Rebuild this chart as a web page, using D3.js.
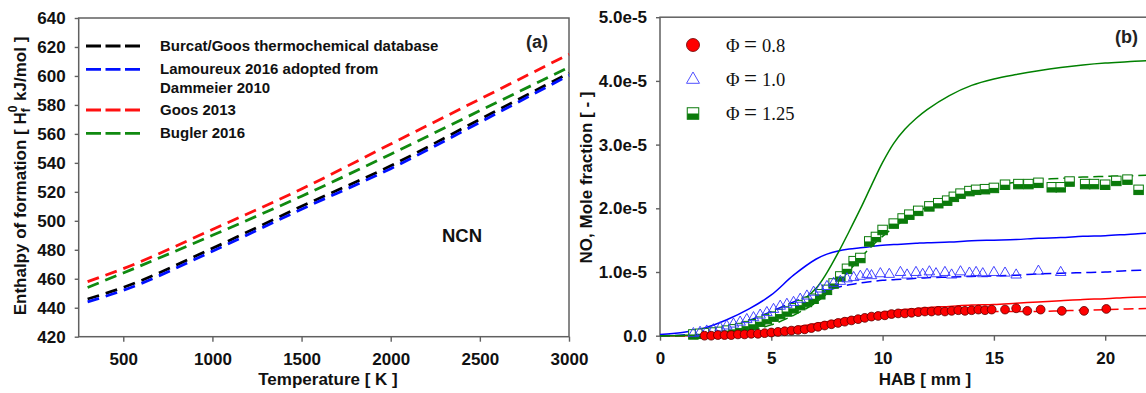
<!DOCTYPE html>
<html><head><meta charset="utf-8">
<script src="https://cdn.jsdelivr.net/npm/d3@7"></script>
<style>body{margin:0;background:#fff}svg{display:block}</style>
</head><body>
<svg id="c" width="1146" height="393"></svg>
<script>
// ---------- Panel (a) data ----------
const tempK      = [300, 500, 1000, 1500, 2000, 2500, 3000];
const hBurcat    = [446, 454, 481, 510, 538, 570, 602];
const hLamoureux = [444, 452, 479, 508, 536, 568, 600.5];
const hGoos      = [458, 467, 494, 522, 553, 584, 615];
const hBugler    = [454, 464, 490, 517, 546, 576, 606];
const tempTicks  = [500, 1000, 1500, 2000, 2500, 3000];
const hTicks     = [420, 440, 460, 480, 500, 520, 540, 560, 580, 600, 620, 640];
const legendA    = [["Burcat/Goos thermochemical database"], ["Lamoureux 2016 adopted from", "Dammeier 2010"], ["Goos 2013"], ["Bugler 2016"]];

// ---------- Panel (b) data (mole fraction in units of 1e-5) ----------
const modelX   = [0, 1, 2, 3, 4, 5, 6, 7, 7.5, 8, 8.5, 9, 9.5, 10, 10.5, 11, 11.5, 12, 13, 14, 15, 16, 17, 18, 19, 20, 21, 22, 23, 25];
const redSolid = [0, 0, 0.01, 0.02, 0.05, 0.08, 0.13, 0.19, 0.22, 0.25, 0.28, 0.31, 0.34, 0.37, 0.39, 0.41, 0.425, 0.44, 0.46, 0.48, 0.49, 0.51, 0.53, 0.55, 0.57, 0.58, 0.6, 0.61, 0.62, 0.64];
const redDash  = [0, 0, 0.005, 0.01, 0.03, 0.05, 0.09, 0.14, 0.17, 0.2, 0.23, 0.26, 0.28, 0.3, 0.32, 0.33, 0.34, 0.35, 0.36, 0.37, 0.38, 0.38, 0.38, 0.39, 0.4, 0.41, 0.42, 0.43, 0.44, 0.45];
const blueSolid= [0.02, 0.05, 0.12, 0.25, 0.42, 0.64, 0.95, 1.2, 1.28, 1.33, 1.36, 1.38, 1.4, 1.42, 1.43, 1.44, 1.45, 1.46, 1.47, 1.49, 1.5, 1.51, 1.53, 1.54, 1.56, 1.57, 1.59, 1.61, 1.62, 1.65];
const blueDash = [0, 0.01, 0.05, 0.12, 0.24, 0.38, 0.53, 0.66, 0.71, 0.76, 0.8, 0.83, 0.85, 0.87, 0.88, 0.89, 0.9, 0.91, 0.92, 0.93, 0.94, 0.95, 0.97, 0.98, 0.99, 1.0, 1.02, 1.03, 1.04, 1.06];
const greenSolid=[0, 0.005, 0.02, 0.06, 0.14, 0.26, 0.45, 0.74, 0.99, 1.3, 1.64, 1.99, 2.36, 2.72, 3.02, 3.24, 3.41, 3.55, 3.77, 3.93, 4.03, 4.1, 4.16, 4.21, 4.25, 4.28, 4.3, 4.32, 4.33, 4.35];
const greenDash= [0, 0, 0.01, 0.03, 0.08, 0.17, 0.32, 0.52, 0.66, 0.83, 1.02, 1.22, 1.4, 1.56, 1.7, 1.82, 1.93, 2.02, 2.16, 2.27, 2.35, 2.41, 2.45, 2.47, 2.49, 2.5, 2.51, 2.52, 2.53, 2.54];

const phi08X = [2.0, 2.3, 2.6, 2.9, 3.2, 3.5, 3.8, 4.1, 4.4, 4.7, 5.0, 5.3, 5.6, 5.9, 6.2, 6.5, 6.8, 7.1, 7.4, 7.7, 8.0, 8.3, 8.6, 8.9, 9.2, 9.5, 9.8, 10.1, 10.4, 10.7, 11.0, 11.3, 11.6, 11.9, 12.2, 12.5, 12.8, 13.1, 13.4, 13.7, 14.0, 14.3, 14.6, 14.9, 15.5, 16.0, 16.5, 17.1, 18.05, 19.05, 20.05];
const phi08Y = [0.0, 0.0, 0.01, 0.01, 0.01, 0.02, 0.02, 0.03, 0.03, 0.04, 0.05, 0.06, 0.07, 0.08, 0.09, 0.1, 0.12, 0.14, 0.16, 0.18, 0.2, 0.22, 0.24, 0.26, 0.28, 0.3, 0.31, 0.32, 0.34, 0.35, 0.35, 0.36, 0.37, 0.38, 0.38, 0.39, 0.38, 0.39, 0.4, 0.39, 0.4, 0.41, 0.4, 0.41, 0.41, 0.43, 0.39, 0.41, 0.39, 0.39, 0.42];
const phi10X = [1.5, 1.8, 2.1, 2.4, 2.7, 3.0, 3.3, 3.6, 3.9, 4.2, 4.5, 4.8, 5.1, 5.4, 5.7, 6.0, 6.3, 6.6, 6.9, 7.2, 7.5, 7.8, 8.1, 8.4, 8.7, 9.0, 9.3, 9.5, 9.9, 10.3, 10.8, 11.1, 11.5, 11.8, 12.1, 12.4, 12.8, 13.1, 13.5, 13.9, 14.2, 14.5, 15.0, 15.5, 16.0, 17.0, 18.0];
const phi10Y = [0.04, 0.06, 0.08, 0.1, 0.13, 0.16, 0.19, 0.22, 0.26, 0.29, 0.33, 0.37, 0.42, 0.47, 0.5, 0.53, 0.58, 0.63, 0.69, 0.74, 0.78, 0.83, 0.86, 0.9, 0.92, 0.94, 0.97, 0.95, 0.98, 0.97, 1.0, 0.96, 1.0, 0.97, 1.01, 0.98, 1.0, 0.96, 1.01, 0.99, 1.0, 0.98, 1.0, 0.99, 0.96, 1.02, 1.0];
const phi125X = [1.5, 1.8, 2.1, 2.4, 2.7, 3.0, 3.3, 3.6, 3.9, 4.2, 4.5, 4.8, 5.1, 5.4, 5.7, 6.0, 6.3, 6.6, 6.9, 7.2, 7.5, 7.8, 8.1, 8.4, 8.7, 9.0, 9.4, 9.7, 10.0, 10.5, 10.9, 11.2, 11.6, 12.1, 12.5, 12.9, 13.2, 13.5, 13.9, 14.2, 14.6, 15.0, 15.5, 16.1, 16.55, 17.0, 17.6, 18.0, 18.4, 19.1, 19.5, 20.0, 20.5, 21.0, 21.5];
const phi125Y = [0.02, 0.03, 0.04, 0.05, 0.06, 0.08, 0.1, 0.12, 0.15, 0.18, 0.22, 0.26, 0.3, 0.34, 0.38, 0.43, 0.48, 0.53, 0.58, 0.65, 0.72, 0.82, 0.93, 1.05, 1.17, 1.22, 1.48, 1.55, 1.66, 1.76, 1.84, 1.9, 1.96, 2.03, 2.08, 2.12, 2.18, 2.23, 2.27, 2.29, 2.3, 2.32, 2.37, 2.38, 2.38, 2.4, 2.33, 2.33, 2.42, 2.38, 2.38, 2.37, 2.43, 2.45, 2.29];
const habTicks = [0, 5, 10, 15, 20];
const noTicks = [0, 1, 2, 3, 4, 5];
const noTickLabels = ["0.0", "1.0e-5", "2.0e-5", "3.0e-5", "4.0e-5", "5.0e-5"];
const legendB = ["0.8", "1.0", "1.25"];

// ---------- drawing ----------
const svg = d3.select("#c");
svg.append("rect").attr("width", 1146).attr("height", 393).attr("fill", "#fff");
const SANS = "'Liberation Sans', Arial, sans-serif";
const AX = "#606060";

function styleAxis(g) {
  g.select(".domain").remove();
  g.selectAll(".tick line").attr("stroke", AX).attr("stroke-width", 1.4);
  g.selectAll(".tick text").attr("fill", "#111").style("font-family", SANS)
    .style("font-weight", "bold").style("font-size", "17px");
}

// Panel (a)
const xa = d3.scaleLinear().domain([250, 3000]).range([78.7, 569]);
const ya = d3.scaleLinear().domain([420, 640]).range([336.7, 18]);
const ga = svg.append("g");
ga.append("g").attr("transform", "translate(0,336.7)")
  .call(d3.axisBottom(xa).tickValues(tempTicks).tickSize(5).tickPadding(11).tickFormat(d3.format("d"))).call(styleAxis);
ga.append("g").attr("transform", "translate(78.7,0)")
  .call(d3.axisLeft(ya).tickValues(hTicks).tickSize(4).tickPadding(9).tickFormat(d3.format("d"))).call(styleAxis);
ga.append("rect").attr("x", xa.range()[0]).attr("y", ya.range()[1])
  .attr("width", xa.range()[1] - xa.range()[0]).attr("height", ya.range()[0] - ya.range()[1])
  .attr("fill", "none").attr("stroke", AX).attr("stroke-width", 1.5);

const seriesA = [
  {v: hGoos, c: "#ff1010"},
  {v: hBugler, c: "#108a10"},
  {v: hBurcat, c: "#000"},
  {v: hLamoureux, c: "#0010ff"}
];
const lineA = d3.line().x((d, i) => xa(tempK[i])).y(d => ya(d)).curve(d3.curveMonotoneX);
seriesA.forEach(s => {
  ga.append("path").attr("d", lineA(s.v)).attr("fill", "none").attr("stroke", s.c)
    .attr("stroke-width", 2.8).attr("stroke-dasharray", "12,7");
});

// legend (a)
const legColors = ["#000", "#0010ff", "#ff1010", "#108a10"];
const legY = [46, 69.3, 110, 133.3];
legendA.forEach((lines, i) => {
  ga.append("line").attr("x1", 86).attr("x2", 140).attr("y1", legY[i]).attr("y2", legY[i])
    .attr("stroke", legColors[i]).attr("stroke-width", 2.8).attr("stroke-dasharray", "15,4.5");
  lines.forEach((t, j) => {
    ga.append("text").attr("x", 160).attr("y", legY[i] + 5 + j * 18.7).text(t)
      .style("font-family", SANS).style("font-weight", "bold").style("font-size", "15px").attr("fill", "#111");
  });
});
ga.append("text").attr("x", 537).attr("y", 48).attr("text-anchor", "middle").text("(a)")
  .style("font-family", SANS).style("font-weight", "bold").style("font-size", "18px").attr("fill", "#222");
ga.append("text").attr("x", 462).attr("y", 241.5).attr("text-anchor", "middle").text("NCN")
  .style("font-family", SANS).style("font-weight", "bold").style("font-size", "18.5px").attr("fill", "#111");
ga.append("text").attr("x", 328).attr("y", 385).attr("text-anchor", "middle").text("Temperature [ K ]")
  .style("font-family", SANS).style("font-weight", "bold").style("font-size", "17px").attr("fill", "#111");
const yta = ga.append("text").attr("transform", "translate(25.5,176) rotate(-90)").attr("text-anchor", "middle")
  .style("font-family", SANS).style("font-weight", "bold").style("font-size", "17px").attr("fill", "#111");
yta.append("tspan").text("Enthalpy of formation [ H");
yta.append("tspan").text("f").style("font-size", "12px").attr("dy", 4);
yta.append("tspan").text("0").style("font-size", "12px").attr("dx", -4).attr("dy", -13);
yta.append("tspan").text(" kJ/mol ]").attr("dy", 9);

// Panel (b)
const xb = d3.scaleLinear().domain([0, 25]).range([660, 1216.5]);
const yb = d3.scaleLinear().domain([0, 5]).range([335.7, 17.2]);
const gb = svg.append("g");
gb.append("g").attr("transform", "translate(0,335.7)")
  .call(d3.axisBottom(xb).tickValues(habTicks).tickSize(5).tickPadding(11).tickFormat(d3.format("d"))).call(styleAxis);
gb.append("g").attr("transform", "translate(660,0)")
  .call(d3.axisLeft(yb).tickValues(noTicks).tickSize(4).tickPadding(9).tickFormat((d, i) => noTickLabels[i])).call(styleAxis);
gb.append("rect").attr("x", xb.range()[0]).attr("y", yb.range()[1])
  .attr("width", xb.range()[1] - xb.range()[0]).attr("height", yb.range()[0] - yb.range()[1])
  .attr("fill", "none").attr("stroke", AX).attr("stroke-width", 1.5);

const lineB = d3.line().x((d, i) => xb(modelX[i])).y(d => yb(d)).curve(d3.curveCatmullRom.alpha(0.5));
const modelLines = [
  {v: redSolid, c: "#ff0000", dash: null},
  {v: redDash, c: "#ff0000", dash: "10,5"},
  {v: blueSolid, c: "#0000ff", dash: null},
  {v: blueDash, c: "#0000ff", dash: "10,5"},
  {v: greenSolid, c: "#008000", dash: null},
  {v: greenDash, c: "#008000", dash: "10,5"}
];
modelLines.forEach(s => {
  gb.append("path").attr("d", lineB(s.v)).attr("fill", "none").attr("stroke", s.c)
    .attr("stroke-width", 1.5).attr("stroke-dasharray", s.dash);
});

function squareMarker(g, cx, cy, s) {
  const h = s / 2;
  g.append("rect").attr("x", cx - h).attr("y", cy - h).attr("width", s).attr("height", s)
    .attr("fill", "#fff").attr("stroke", "#0a7a0a").attr("stroke-width", 1);
  g.append("rect").attr("x", cx - h).attr("y", cy).attr("width", s).attr("height", h)
    .attr("fill", "#0a7a0a");
}
function triPath(cx, cy, w) {
  const h = w * 0.87;
  return `M${cx},${cy - h * 0.62}L${cx + w / 2},${cy + h * 0.38}L${cx - w / 2},${cy + h * 0.38}Z`;
}

const mk = gb.append("g");
phi125X.forEach((x, i) => squareMarker(mk, xb(x), yb(phi125Y[i]), 9.5));
phi10X.forEach((x, i) => {
  mk.append("path").attr("d", triPath(xb(x), yb(phi10Y[i]), 10.5)).attr("fill", "none")
    .attr("stroke", "#3030ff").attr("stroke-width", 0.9);
});
phi08X.forEach((x, i) => {
  mk.append("circle").attr("cx", xb(x)).attr("cy", yb(phi08Y[i])).attr("r", 4.4)
    .attr("fill", "#ff0000").attr("stroke", "#5a0000").attr("stroke-width", 0.8);
});

// legend (b)
const lgY = [45, 79, 113.5];
gb.append("circle").attr("cx", 693).attr("cy", lgY[0]).attr("r", 6.5)
  .attr("fill", "#ff0000").attr("stroke", "#6a0000").attr("stroke-width", 0.8);
gb.append("path").attr("d", triPath(693, lgY[1], 13)).attr("fill", "none").attr("stroke", "#5050ff").attr("stroke-width", 1);
squareMarker(gb, 693, lgY[2], 11.5);
legendB.forEach((t, i) => {
  const tx = gb.append("text").attr("y", lgY[i] + 6.5)
    .style("font-family", "'Liberation Serif', 'Times New Roman', serif").style("font-size", "18.5px").attr("fill", "#111");
  tx.append("tspan").attr("x", 726).text("\u03A6");
  tx.append("tspan").attr("x", 744).text("=").style("font-size", "23px");
  tx.append("tspan").attr("x", 762).text(t);
});
gb.append("text").attr("x", 1126.5).attr("y", 43).attr("text-anchor", "middle").text("(b)")
  .style("font-family", SANS).style("font-weight", "bold").style("font-size", "18px").attr("fill", "#222");
gb.append("text").attr("x", 925).attr("y", 385).attr("text-anchor", "middle").text("HAB [ mm ]")
  .style("font-family", SANS).style("font-weight", "bold").style("font-size", "17px").attr("fill", "#111");
gb.append("text").attr("transform", "translate(592,177.5) rotate(-90)").attr("text-anchor", "middle")
  .text("NO, Mole fraction [ - ]")
  .style("font-family", SANS).style("font-weight", "bold").style("font-size", "17px").attr("fill", "#111");
</script>
</body></html>
